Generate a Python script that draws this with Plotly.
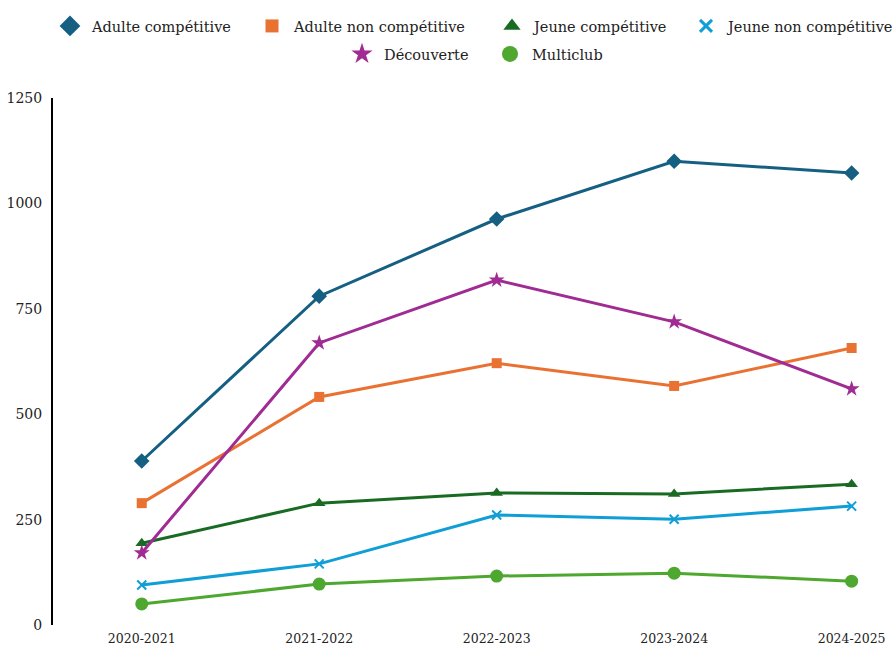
import plotly.graph_objects as go

seasons = ["2020-2021", "2021-2022", "2022-2023", "2023-2024", "2024-2025"]
adulte_comp = [389, 780, 963, 1100, 1072]
adulte_non_comp = [289, 541, 621, 567, 657]
jeune_comp = [194, 289, 313, 311, 334]
jeune_non_comp = [95, 145, 261, 251, 282]
decouverte = [171, 669, 818, 719, 560]
multiclub = [50, 97, 116, 123, 104]
y_ticks = [0, 250, 500, 750, 1000, 1250]

series = [
    ("Adulte compétitive", adulte_comp, "#156082", "diamond", 12, 18),
    ("Adulte non compétitive", adulte_non_comp, "#E97132", "square", 10, 13),
    ("Jeune compétitive", jeune_comp, "#196B24", "triangle-up", 11, 15),
    ("Jeune non compétitive", jeune_non_comp, "#0F9ED5", "x-thin", 9, 12),
    ("Découverte", decouverte, "#A02B93", "star", 12, 17),
    ("Multiclub", multiclub, "#4EA72E", "circle", 13, 17),
]

# legend symbol centres (px) for each entry
leg_pos = [(68, 26), (270, 26), (510, 26), (704, 26), (360, 54), (508, 54)]

W, H = 896, 646
ML, MR, MT, MB = 53, 0, 98, 21
PW, PH = W - ML - MR, H - MT - MB

FONT = "DejaVu Serif"

fig = go.Figure()
layout_legends = {}
for i, (name, vals, col, sym, sz, lsz) in enumerate(series):
    lid = "legend" if i == 0 else f"legend{i+1}"
    marker = dict(symbol=sym, size=sz, color=col)
    if sym == "x-thin":
        marker["line"] = dict(width=2, color=col)
    else:
        marker["line"] = dict(width=0)
    fig.add_trace(go.Scatter(
        x=seasons, y=vals, name=name, mode="lines+markers",
        line=dict(color=col, width=3), marker=marker, showlegend=False,
    ))
    # legend-only entry (marker without line)
    lm = dict(marker)
    lm["size"] = lsz
    if sym == "x-thin":
        lm["line"] = dict(width=3, color=col)
    fig.add_trace(go.Scatter(
        x=[None], y=[None], name=name, mode="markers",
        marker=lm, legend=lid, showlegend=True,
    ))
    sx, sy = leg_pos[i]
    layout_legends[lid] = dict(
        x=(sx - 20 - ML) / PW, xanchor="left",
        y=1 + (MT - sy) / PH, yanchor="middle",
        orientation="h", itemsizing="trace", itemwidth=34,
        font=dict(family=FONT, size=14.5, color="#222"),
        bgcolor="rgba(0,0,0,0)", borderwidth=0,
    )

fig.update_layout(
    width=W, height=H,
    margin=dict(l=ML, r=MR, t=MT, b=MB, autoexpand=False),
    plot_bgcolor="white", paper_bgcolor="white",
    font=dict(family=FONT, color="#222"),
    showlegend=True,
    **layout_legends,
)
fig.update_xaxes(
    type="category", range=[-0.5, 4.25], showgrid=False, zeroline=False,
    showline=False, ticks="", automargin=False, ticklabelstandoff=4,
    tickfont=dict(family=FONT, size=12.5, color="#222"),
)
fig.update_yaxes(
    range=[0, 1250], tickvals=y_ticks, showgrid=False, zeroline=False,
    showline=True, linecolor="black", linewidth=2, ticks="",
    ticklabelstandoff=6, automargin=False,
    tickfont=dict(family=FONT, size=14, color="#222"),
)

fig.write_html("out.html", config={"displayModeBar": False},
               post_script="document.body.style.margin='0px';document.body.style.overflow='hidden';")
